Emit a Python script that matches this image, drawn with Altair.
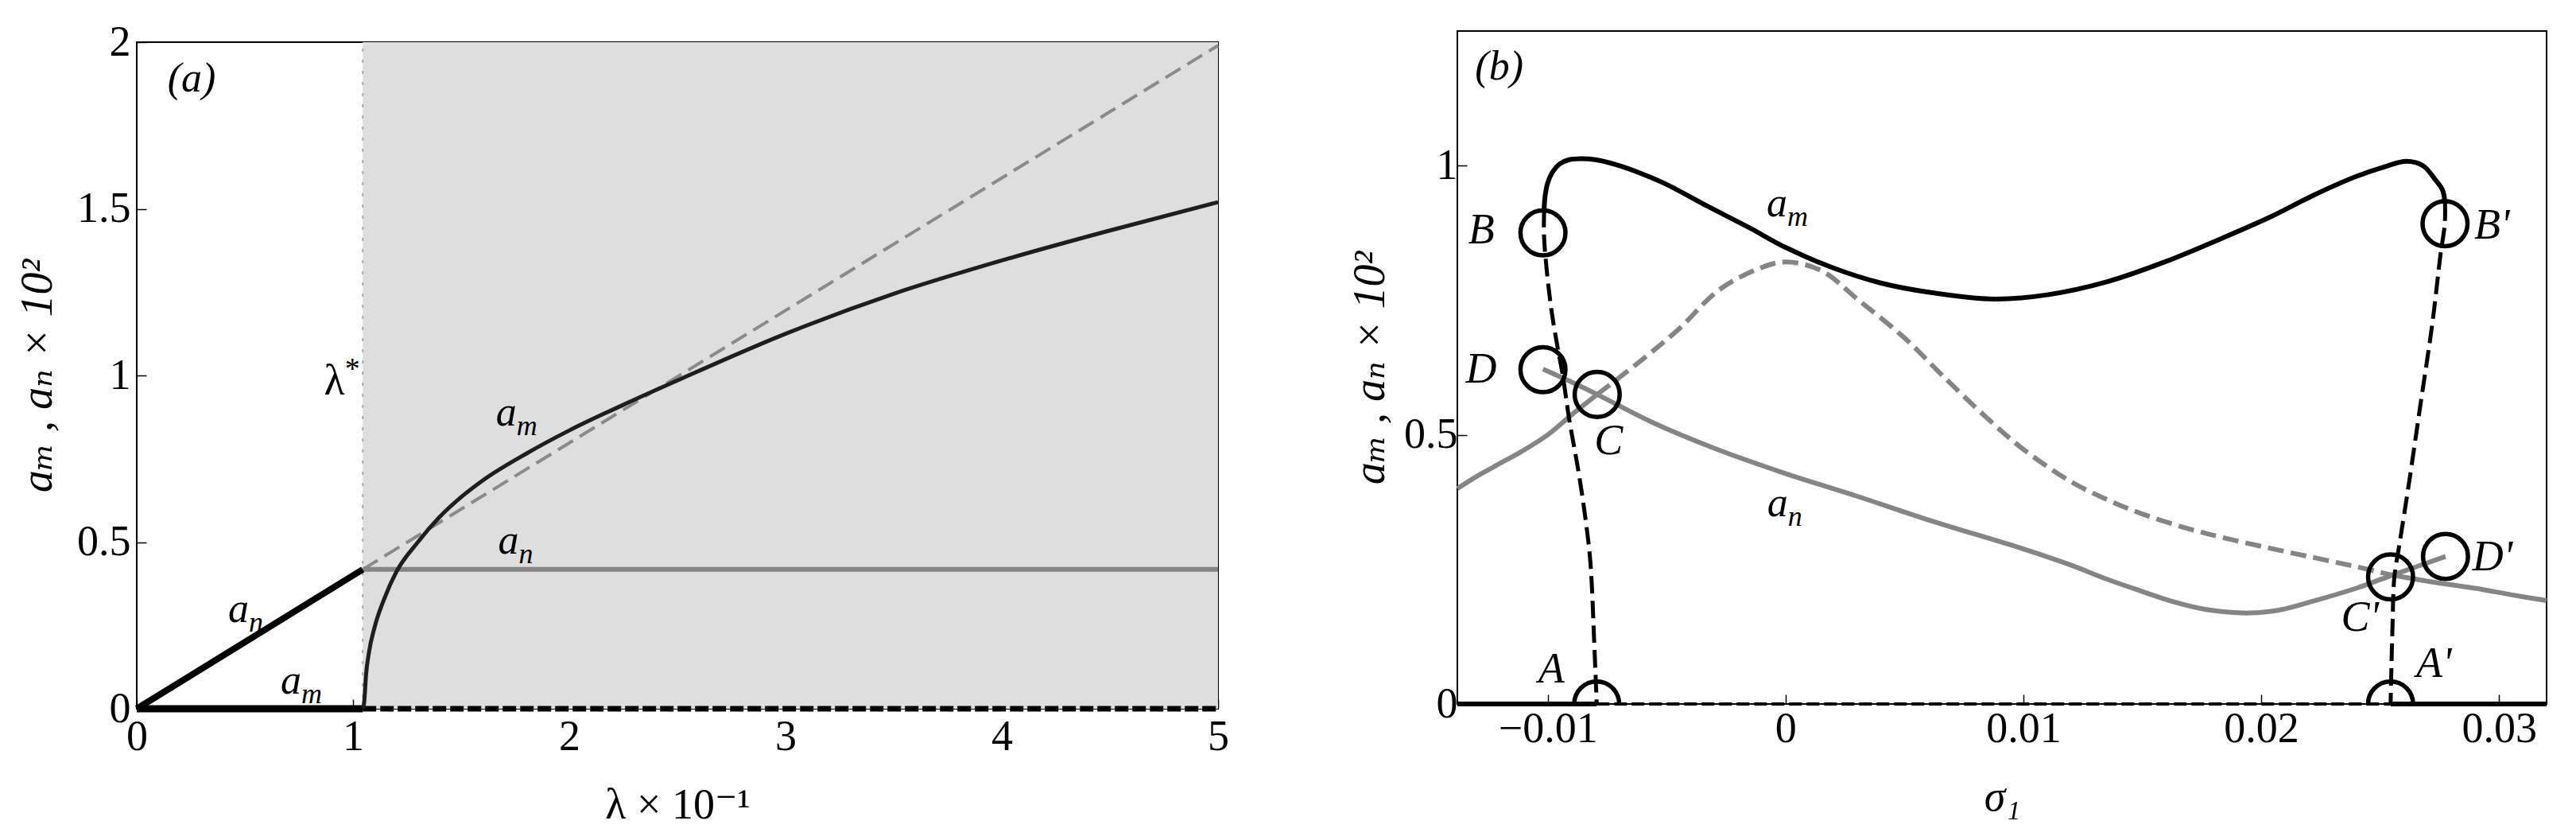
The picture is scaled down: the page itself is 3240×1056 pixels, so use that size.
import altair as alt
import pandas as pd

FONT = "Liberation Serif, Times New Roman, DejaVu Serif, serif"
GRAY = "#858585"
SHADE = "#dedede"

# ---------------- Panel (a) ----------------
A_X_DOMAIN = [0, 5]
A_Y_DOMAIN = [0, 2]
A_X_TICKS = [0, 1, 2, 3, 4, 5]
A_Y_TICKS = [0, 0.5, 1, 1.5, 2]
LAMBDA_STAR = 1.045

AN_RISE_X = [0.0, 1.045]
AN_RISE_Y = [0.0, 0.418]
AN_FLAT_X = [1.045, 5.0]
AN_FLAT_Y = [0.418, 0.418]
AN_UNST_X = [1.045, 5.0]
AN_UNST_Y = [0.418, 1.99]
AM_ZERO_X = [0.0, 1.045]
AM_ZERO_Y = [0.0, 0.0]
AM_ZUNST_X = [1.045, 5.0]
AM_ZUNST_Y = [0.0, 0.0]
AM_CURVE_X = [1.048, 1.053, 1.06, 1.074, 1.10, 1.147, 1.20, 1.30, 1.40, 1.50, 1.60, 1.80, 2.00,
              2.25, 2.50, 3.00, 3.50, 4.00, 4.50, 5.00]
AM_CURVE_Y = [0.00, 0.03, 0.10, 0.17, 0.245, 0.334, 0.41, 0.50, 0.575, 0.635, 0.685, 0.765,
              0.835, 0.912, 0.985, 1.125, 1.245, 1.345, 1.435, 1.52]

A_SUB_X = [0.518, 0.761, 1.756, 1.767]
A_SUB_Y = [0.289, 0.073, 0.878, 0.494]
A_SUB_TXT = ["n", "m", "m", "n"]
A_LAM_X = [0.962]
A_LAM_Y = [0.988]
A_TAG_X = [0.254]
A_TAG_Y = [1.891]
A_TAG_TXT = ["(a)"]

# ---------------- Panel (b) ----------------
B_X_DOMAIN = [-0.0138, 0.032]
B_Y_DOMAIN = [0, 1.25]
B_X_TICKS = [-0.01, 0, 0.01, 0.02, 0.03]
B_Y_TICKS = [0, 0.5, 1]

AM_SOL_X = [-0.01015, -0.01012, -0.0100, -0.0098, -0.0095, -0.0091, -0.0086, -0.0080, -0.0070,
            -0.0060, -0.0050, -0.0033, -0.0015, 0.0000, 0.0020, 0.0040, 0.0060, 0.0088, 0.0110,
            0.0135, 0.0160, 0.0184, 0.0204, 0.0222, 0.0240, 0.0252, 0.0261, 0.0268, 0.0273,
            0.02762, 0.02773]
AM_SOL_Y = [0.918, 0.940, 0.968, 0.988, 1.003, 1.011, 1.013, 1.011, 1.000, 0.984, 0.965, 0.925,
            0.884, 0.848, 0.810, 0.782, 0.765, 0.752, 0.760, 0.784, 0.822, 0.866, 0.905, 0.945,
            0.980, 0.998, 1.008, 1.000, 0.975, 0.955, 0.930]
AM_UL_X = [-0.01015, -0.01016, -0.01010, -0.00987, -0.00960, -0.00937, -0.00910, -0.00870,
           -0.00840, -0.00820, -0.00805, -0.00794]
AM_UL_Y = [0.918, 0.876, 0.833, 0.740, 0.666, 0.611, 0.530, 0.430, 0.340, 0.260, 0.120, 0.000]
AM_UR_X = [0.02773, 0.02772, 0.02754, 0.02720, 0.02670, 0.02620, 0.02580, 0.02560, 0.02552,
           0.02544]
AM_UR_Y = [0.930, 0.892, 0.835, 0.708, 0.557, 0.406, 0.293, 0.236, 0.142, 0.000]

ZERO_L_X = [-0.0138, -0.00794]
ZERO_U_X = [-0.00794, 0.02544]
ZERO_R_X = [0.02544, 0.032]
ZERO_Y = [0.0, 0.0]

G1L_X = [-0.0138, -0.0130, -0.0120, -0.0111, -0.0100, -0.0090, -0.00792]
G1L_Y = [0.400, 0.4225, 0.447, 0.469, 0.500, 0.537, 0.575]
G1U_X = [-0.00792, -0.0061, -0.0045, -0.0028, -0.0011, 0.0000, 0.0015, 0.0031, 0.0050, 0.0066,
         0.0085, 0.0100, 0.0120, 0.0135, 0.0150, 0.0169, 0.0185, 0.0204, 0.0222, 0.0239, 0.02544]
G1U_Y = [0.575, 0.637, 0.696, 0.769, 0.809, 0.821, 0.805, 0.749, 0.680, 0.610, 0.530, 0.473,
         0.413, 0.380, 0.353, 0.326, 0.308, 0.289, 0.272, 0.256, 0.240]
G1R_X = [0.02544, 0.0270, 0.0290, 0.0305, 0.0320]
G1R_Y = [0.240, 0.228, 0.215, 0.203, 0.192]
G2_X = [-0.0102, -0.0090, -0.00792, -0.0056, -0.0030, 0.0000, 0.0030, 0.0060, 0.0100, 0.0120,
        0.0135, 0.0150, 0.0163, 0.0175, 0.0185, 0.0195, 0.0207, 0.0221, 0.0240, 0.02544, 0.02775]
G2_Y = [0.622, 0.598, 0.575, 0.523, 0.475, 0.428, 0.386, 0.342, 0.288, 0.258, 0.232, 0.209,
        0.190, 0.177, 0.171, 0.169, 0.174, 0.190, 0.215, 0.238, 0.274]

CIR_X = [-0.0102, -0.0102, -0.00792, -0.00794, 0.02773, 0.02775, 0.02544, 0.02544]
CIR_Y = [0.875, 0.621, 0.575, 0.0, 0.892, 0.274, 0.236, 0.0]

LET_TXT = ["B", "D", "C", "A", "B'", "D'", "C'", "A'"]
LET_X = [-0.01279, -0.0128, -0.00744, -0.00985, 0.0297, 0.02973, 0.02415, 0.02726]
LET_Y = [0.882, 0.624, 0.490, 0.067, 0.891, 0.275, 0.163, 0.077]

B_SUB_X = [0.00007, 0.0001]
B_SUB_Y = [0.923, 0.366]
B_SUB_TXT = ["m", "n"]
B_TAG_X = [-0.01204]
B_TAG_Y = [1.183]
B_TAG_TXT = ["(b)"]

Y_TITLE = "aₘ , aₙ × 10²"


def df_xy(xs, ys, **extra):
    d = {"x": xs, "y": ys, "i": list(range(len(xs)))}
    d.update(extra)
    return pd.DataFrame(d)


def axes(xdom, ydom, xticks, yticks, xtitle, xstyle, w, h, x_title_y, y_title_x,
         xpad=16, ypad=12):
    xenc = alt.X("x:Q", scale=alt.Scale(domain=xdom, nice=False, zero=False),
                 axis=alt.Axis(values=xticks, title=xtitle, format="~g", labelFlush=False,
                               labelPadding=xpad, titleFontStyle=xstyle,
                               titleBaseline="alphabetic", titleAlign="center",
                               titleX=w / 2, titleY=x_title_y))
    yenc = alt.Y("y:Q", scale=alt.Scale(domain=ydom, nice=False, zero=False),
                 axis=alt.Axis(values=yticks, title=Y_TITLE, format="~g", labelFlush=False,
                               labelPadding=ypad, titleFontStyle="italic", titleAngle=270,
                               titleFontSize=56,
                               titleBaseline="alphabetic", titleAlign="center",
                               titleX=y_title_x, titleY=h / 2))
    return xenc, yenc


def line(xs, ys, X, Y, color, width, dash=None, interp="linear"):
    kw = dict(color=color, strokeWidth=width, interpolate=interp, strokeCap="butt",
              strokeJoin="round")
    if dash:
        kw["strokeDash"] = dash
    return alt.Chart(df_xy(xs, ys)).mark_line(**kw).encode(x=X, y=Y, order="i:Q")


def sub_label(xs, ys, subs, X, Y, main="a", size=52, subsize=36, dy_main=12, dy_sub=24,
              sup=False):
    d = df_xy(xs, ys, m=[main] * len(xs), s=subs)
    base = alt.Chart(d)
    t1 = base.mark_text(align="right", baseline="alphabetic", dy=dy_main, font=FONT,
                        fontSize=size, fontStyle="normal" if sup else "italic",
                        color="black").encode(x=X, y=Y, text="m:N")
    t2 = base.mark_text(align="left", baseline="alphabetic", dy=dy_sub, font=FONT,
                        fontSize=subsize, fontStyle="normal" if sup else "italic",
                        color="black").encode(x=X, y=Y, text="s:N")
    return [t1, t2]


def plain_label(xs, ys, txt, X, Y, size=54, dy=18):
    return alt.Chart(df_xy(xs, ys, t=txt)).mark_text(
        align="center", baseline="alphabetic", dy=dy, font=FONT, fontSize=size,
        fontStyle="italic", color="black").encode(x=X, y=Y, text="t:N")


# ---- panel (a)
WA, HA = 1360, 838
XA, YA = axes(A_X_DOMAIN, A_Y_DOMAIN, A_X_TICKS, A_Y_TICKS, "λ × 10⁻¹", "normal",
              WA, HA, 137, -108, xpad=20, ypad=20)

shade = alt.Chart(pd.DataFrame({"x": [LAMBDA_STAR], "x2": [A_X_DOMAIN[1]],
                                "y": [A_Y_DOMAIN[0]], "y2": [A_Y_DOMAIN[1]]})).mark_rect(
    color=SHADE).encode(x=XA, x2="x2:Q", y=YA, y2="y2:Q")
vline = alt.Chart(pd.DataFrame({"x": [LAMBDA_STAR], "y": [A_Y_DOMAIN[0]],
                                "y2": [A_Y_DOMAIN[1]]})).mark_rule(
    color="#999999", strokeWidth=1.5, strokeDash=[4, 10]).encode(x=XA, y=YA, y2="y2:Q")

layers_a = [
    shade, vline,
    line(AN_UNST_X, AN_UNST_Y, XA, YA, "#8a8a8a", 4, dash=[22, 10]),
    line(AN_FLAT_X, AN_FLAT_Y, XA, YA, GRAY, 6),
    line(AN_RISE_X, AN_RISE_Y, XA, YA, "black", 8),
    line(AM_ZERO_X, AM_ZERO_Y, XA, YA, "black", 9),
    line(AM_ZUNST_X, AM_ZUNST_Y, XA, YA, "black", 7, dash=[17, 5]),
    line(AM_CURVE_X, AM_CURVE_Y, XA, YA, "#1e1e1e", 5, interp="monotone"),
]
layers_a += sub_label(A_SUB_X, A_SUB_Y, A_SUB_TXT, XA, YA)
layers_a += sub_label(A_LAM_X, A_LAM_Y, ["*"], XA, YA, main="λ", size=54, subsize=38,
                      dy_main=19, dy_sub=-1, sup=True)
layers_a.append(plain_label(A_TAG_X, A_TAG_Y, A_TAG_TXT, XA, YA, size=52, dy=16))

panel_a = alt.layer(*layers_a).properties(width=WA, height=HA)

# invisible spacer so that panel (a) sits a little lower than panel (b)
spacer = alt.Chart(pd.DataFrame({"sx": [0], "sy": [0]})).mark_point(opacity=0).encode(
    x=alt.X("sx:Q", axis=None), y=alt.Y("sy:Q", axis=None)
).properties(width=WA, height=1, view=alt.ViewBackground(stroke="transparent"))

left = alt.vconcat(spacer, panel_a, spacing=13, bounds="flush")

# ---- panel (b)
WB, HB = 1370, 846
XB, YB = axes(B_X_DOMAIN, B_Y_DOMAIN, B_X_TICKS, B_Y_TICKS, "σ₁", "italic",
              WB, HB, 133, -93)

circles = alt.Chart(df_xy(CIR_X, CIR_Y)).mark_point(
    shape="circle", filled=False, size=3200, strokeWidth=5.5, color="black", opacity=1,
    clip=True).encode(x=XB, y=YB)

layers_b = [
    line(ZERO_L_X, ZERO_Y, XB, YB, "black", 6),
    line(ZERO_R_X, ZERO_Y, XB, YB, "black", 6),
    line(ZERO_U_X, ZERO_Y, XB, YB, "black", 4, dash=[16, 6]),
    line(G1L_X, G1L_Y, XB, YB, GRAY, 6, interp="catmull-rom"),
    line(G1U_X, G1U_Y, XB, YB, GRAY, 6, dash=[20, 9], interp="catmull-rom"),
    line(G1R_X, G1R_Y, XB, YB, GRAY, 6, interp="catmull-rom"),
    line(G2_X, G2_Y, XB, YB, GRAY, 6, interp="catmull-rom"),
    line(AM_UL_X, AM_UL_Y, XB, YB, "black", 5, dash=[22, 9], interp="catmull-rom"),
    line(AM_UR_X, AM_UR_Y, XB, YB, "black", 5, dash=[22, 9], interp="catmull-rom"),
    line(AM_SOL_X, AM_SOL_Y, XB, YB, "black", 6, interp="catmull-rom"),
    circles,
    plain_label(LET_X, LET_Y, LET_TXT, XB, YB, size=54, dy=18),
]
layers_b += sub_label(B_SUB_X, B_SUB_Y, B_SUB_TXT, XB, YB)
layers_b.append(plain_label(B_TAG_X, B_TAG_Y, B_TAG_TXT, XB, YB, size=52, dy=16))

panel_b = alt.layer(*layers_b).properties(width=WB, height=HB)

chart = alt.hconcat(left, panel_b, spacing=147).configure_view(
    stroke="black", strokeWidth=2
).configure_axis(
    labelFont=FONT, labelFontSize=54, labelColor="black",
    titleFont=FONT, titleFontSize=54, titleColor="black", titleFontWeight="normal",
    tickColor="black", tickWidth=1.5, tickSize=alt.ExprRef(expr="-12"),
    domain=False, grid=False,
).properties(padding={"left": 10, "top": 17, "right": 5, "bottom": 5})

chart.save("out.html", embed_options={"renderer": "svg", "actions": False})
